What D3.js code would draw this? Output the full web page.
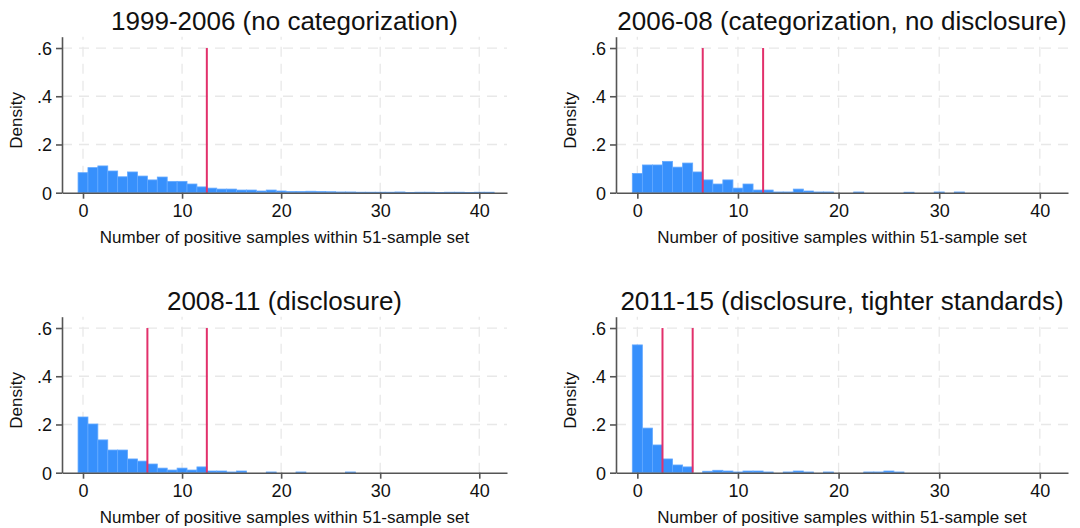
<!DOCTYPE html>
<head>
  <meta charset="utf-8">
  <style>
    body { margin: 0; background: #fff; }
    svg { display: block; font-family: "Liberation Sans", Arial, sans-serif; }
    .grid line { stroke: #e8e8e8; stroke-width: 1.3; stroke-dasharray: 10,7; }
  </style>
  <script src="https://cdn.jsdelivr.net/npm/d3@7"></script>
</head>
<body>
<div id=chart></div>
<script>
// panel titles, in reading order
const titles = [
  '1999-2006 (no categorization)',
  '2006-08 (categorization, no disclosure)',
  '2008-11 (disclosure)',
  '2011-15 (disclosure, tighter standards)',
]
// density per bin; bin i is centred on i positive samples
const density_1999 = [0.083, 0.104, 0.111, 0.090, 0.066, 0.086, 0.069, 0.053, 0.065, 0.047,
  0.047, 0.036, 0.024, 0.019, 0.015, 0.015, 0.011, 0.011, 0.007, 0.011,
  0.007, 0.005, 0.005, 0.006, 0.005, 0.004, 0.003, 0.003, 0.002, 0.002,
  0.002, 0.002, 0.003, 0.001, 0.002, 0.002, 0.001, 0.002, 0.002, 0.001, 0.002, 0.002]
const density_2006 = [0.080, 0.115, 0.115, 0.130, 0.106, 0.123, 0.086, 0.053, 0.036, 0.053,
  0.019, 0.036, 0.011, 0.011, 0.003, 0.003, 0.015, 0.007, 0.003, 0.003,
  0, 0, 0.003, 0, 0, 0, 0, 0.002, 0, 0, 0.003, 0, 0.003]
const density_2008 = [0.231, 0.202, 0.136, 0.094, 0.094, 0.057, 0.048, 0.036, 0.019, 0.011,
  0.019, 0.011, 0.024, 0.007, 0.007, 0.003, 0.007, 0, 0, 0.003,
  0, 0, 0.003, 0, 0, 0, 0, 0.003]
const density_2011 = [0.530, 0.185, 0.115, 0.057, 0.032, 0.024, 0, 0.006, 0.010, 0.007,
  0.003, 0.007, 0.007, 0.003, 0, 0.003, 0.007, 0.003, 0, 0.003,
  0, 0, 0, 0.003, 0.003, 0.007, 0.003]
const densities = [density_1999, density_2006, density_2008, density_2011]
// category cut-offs drawn as vertical lines
const cutoffs = [[12.5], [6.5, 12.5], [6.5, 12.5], [2.5, 5.5]]
const x_ticks = [0, 10, 20, 30, 40]
const y_ticks = [0, 0.2, 0.4, 0.6]
const x_title = 'Number of positive samples within 51-sample set'
const y_title = 'Density'

const width = 1080, height = 528
const svg = d3.select('#chart').append('svg').attr('width', width).attr('height', height)

const fmt = d => d === 0 ? '0' : d3.format('.1f')(d).replace(/^0/, '')

titles.forEach((title, i) => {
  const right = i % 2 === 1
  const dx = right ? 554 : 0, dy = Math.floor(i / 2) * 280
  const g = svg.append('g').attr('transform', `translate(${dx},${dy})`)
  // right-hand panels come out a little wider in the original
  const x = d3.scaleLinear().domain([-2.12, 42.8]).range([62, right ? 514 : 507])
  const y = d3.scaleLinear().domain([0, 0.647]).range([192.7, 36.7])
  const cx = (x.range()[0] + x.range()[1]) / 2

  // grid
  const grid = g.append('g').attr('class', 'grid')
  grid.selectAll('.gy').data(y_ticks.filter(t => t > 0)).join('line')
    .attr('x1', x.range()[0]).attr('x2', x.range()[1])
    .attr('y1', d => y(d)).attr('y2', d => y(d))
  grid.selectAll('.gx').data(x_ticks).join('line')
    .attr('x1', d => x(d)).attr('x2', d => x(d))
    .attr('y1', y.range()[0]).attr('y2', y.range()[1])

  // bars
  const bins = densities[i].map((v, k) => ({ k, v })).filter(d => d.v > 0)
  g.append('g').selectAll('rect').data(bins).join('rect')
    .attr('x', d => x(d.k - 0.5)).attr('width', d => x(d.k + 0.5) - x(d.k - 0.5))
    .attr('y', d => y(d.v)).attr('height', d => y(0) - y(d.v))
    .attr('fill', '#3790fc').attr('stroke', '#63a9ff').attr('stroke-width', 0.8)

  // cut-off lines
  g.append('g').selectAll('line').data(cutoffs[i]).join('line')
    .attr('x1', d => x(d)).attr('x2', d => x(d))
    .attr('y1', y(0)).attr('y2', y(0.6))
    .attr('stroke', '#e2306b').attr('stroke-width', 2)

  // axes
  const xa = g.append('g').attr('transform', `translate(0,${y(0)})`)
    .call(d3.axisBottom(x).tickValues(x_ticks).tickSize(6).tickPadding(6).tickSizeOuter(0))
  const ya = g.append('g').attr('transform', `translate(${x.range()[0]},0)`)
    .call(d3.axisLeft(y).tickValues(y_ticks).tickFormat(fmt).tickSize(6).tickPadding(4).tickSizeOuter(0))
  for (const a of [xa, ya]) {
    a.select('.domain').attr('stroke', '#555').attr('stroke-width', 1.6)
    a.selectAll('.tick line').attr('stroke', '#555').attr('stroke-width', 1.6)
    a.selectAll('.tick text').attr('fill', '#111').style('font-size', '18px')
  }
  ya.selectAll('.tick text').attr('dy', '0.36em')

  g.append('text').attr('x', cx).attr('y', 30)
    .attr('text-anchor', 'middle').style('font-size', '26px').attr('fill', '#111').text(title)
  g.append('text').attr('x', cx).attr('y', 243)
    .attr('text-anchor', 'middle').style('font-size', '17px').attr('fill', '#111').text(x_title)
  g.append('text').attr('transform', `translate(22,${y(0.3)}) rotate(-90)`)
    .attr('text-anchor', 'middle').style('font-size', '17px').attr('fill', '#111').text(y_title)
})
</script>
</body>
